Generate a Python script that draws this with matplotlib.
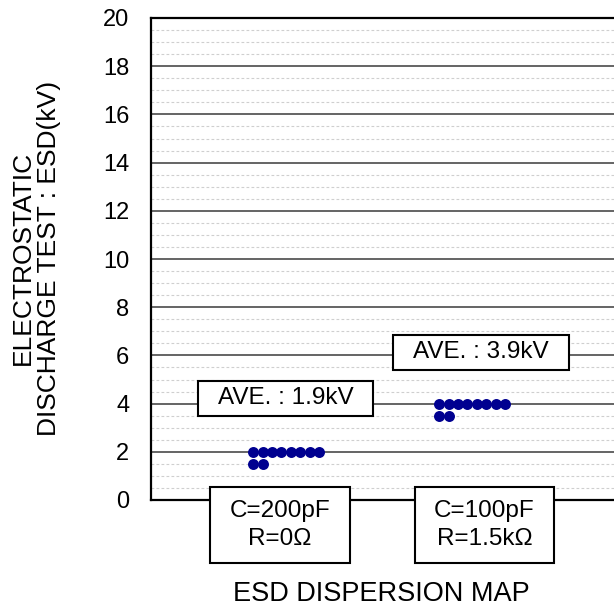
import matplotlib
matplotlib.use("Agg")
import matplotlib.pyplot as plt
from matplotlib.patches import Rectangle
from matplotlib.ticker import MultipleLocator
import numpy as np

plt.rcParams['font.family'] = ['Liberation Sans', 'DejaVu Sans']

# ---- data ----
categories = ["C=200pF\nR=0Ω", "C=100pF\nR=1.5kΩ"]
esd_200pF = [2.0, 2.0, 2.0, 2.0, 2.0, 2.0, 2.0, 2.0, 1.5, 1.5]
esd_100pF = [4.0, 4.0, 4.0, 4.0, 4.0, 4.0, 4.0, 4.0, 3.5, 3.5]
averages = [1.9, 3.9]
ave_labels = ["AVE. : 1.9kV", "AVE. : 3.9kV"]
y_ticks = [0, 2, 4, 6, 8, 10, 12, 14, 16, 18, 20]
series = [esd_200pF, esd_100pF]

W, H = 614, 606
fig = plt.figure(figsize=(W / 100, H / 100), dpi=100)
ax_l, ax_r, ax_t, ax_b = 151, 614, 18, 500
ax = fig.add_axes([ax_l / W, 1 - ax_b / H, (ax_r - ax_l) / W, (ax_b - ax_t) / H])

dot_step = 0.0505
positions = [1, 2]
dot_color = "#000090"
for pos, vals in zip(positions, series):
    xs, ys = [], []
    counts = {}
    for v in vals:
        k = counts.get(v, 0)
        counts[v] = k + 1
        xs.append(pos - 3.5 * dot_step + k * dot_step)
        ys.append(v)
    ax.plot(xs, ys, 'o', color=dot_color, ms=7.9, mew=0, zorder=5, clip_on=False)

ax.set_xlim(0.274, 2.763)
ax.set_ylim(0, 20)
ax.set_yticks(y_ticks)
ax.set_yticklabels([str(t) for t in y_ticks], fontsize=17)
ax.yaxis.set_minor_locator(MultipleLocator(0.5))
ax.set_xticks([])
ax.tick_params(axis='y', which='both', length=0, pad=15.5)
ax.grid(True, which='major', axis='y', color='#4a4a4a', lw=1.2, zorder=1)
ax.grid(True, which='minor', axis='y', color='#cfcfcf', lw=0.8, ls=(0, (2.5, 2)), zorder=0)
ax.set_axisbelow(True)

for s in ['top', 'left', 'bottom']:
    ax.spines[s].set_color('black')
    ax.spines[s].set_linewidth(1.6)
ax.spines['right'].set_visible(False)

def fx(px):
    return (px - ax_l) / (ax_r - ax_l)

def fy(py):
    return (ax_b - py) / (ax_b - ax_t)

def box(x0, x1, y0, y1, text, size, ls=1.2):
    r = Rectangle((fx(x0), fy(y1)), fx(x1) - fx(x0), fy(y0) - fy(y1),
                  transform=ax.transAxes, facecolor='white', edgecolor='black',
                  lw=1.5, zorder=10, clip_on=False)
    ax.add_patch(r)
    ax.text((fx(x0) + fx(x1)) / 2, (fy(y0) + fy(y1)) / 2, text,
            transform=ax.transAxes, ha='center', va='center', fontsize=size,
            zorder=11, linespacing=ls, multialignment='center')

# average annotation boxes
box(198, 373, 381, 416, ave_labels[0], 17.5)
box(393, 569, 335, 370, ave_labels[1], 17.5)
# category boxes
box(210, 350, 487, 563, categories[0], 17.5, ls=1.3)
box(415, 554, 487, 563, categories[1], 17.5, ls=1.3)

fig.text(381 / W, 1 - 594 / H, "ESD DISPERSION MAP", ha='center', va='center', fontsize=19.5)
fig.text(36 / W, 1 - 258 / H, "ELECTROSTATIC\nDISCHARGE TEST : ESD(kV)", rotation=90,
         ha='center', va='center', fontsize=19, multialignment='center', linespacing=1.15)

fig.savefig("out.png", dpi=100)
